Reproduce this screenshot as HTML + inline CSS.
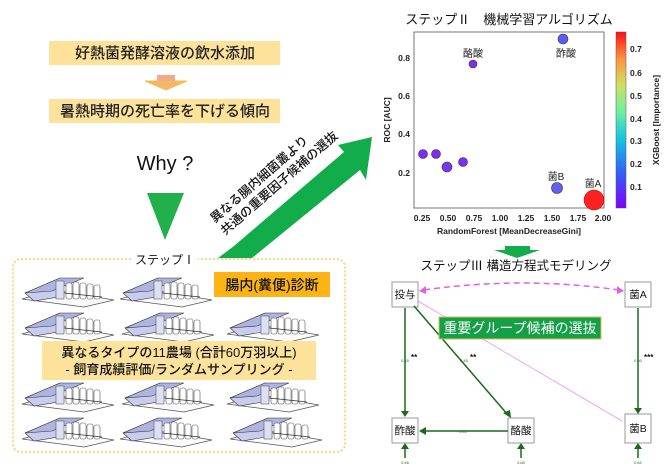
<!DOCTYPE html>
<html><head><meta charset="utf-8"><style>
body{margin:0;background:#fff;}
svg{display:block;font-family:"Liberation Sans","Noto Sans CJK JP",sans-serif;}
</style></head><body>
<svg width="670" height="470" viewBox="0 0 670 470" xmlns="http://www.w3.org/2000/svg">
<defs>
<g id="bld">
<polygon points="0,26 32,17 92,27 62,34" fill="#fafafa" stroke="#555" stroke-width="0.7"/>
<polygon points="3,20 38,5 42,23 12,28" fill="#c9ccef" stroke="#333" stroke-width="0.6"/>
<polygon points="3,20 38,5 62,5 30,18" fill="#aeb3e0" stroke="#333" stroke-width="0.6"/>
<rect x="34" y="8" width="8" height="18" fill="#dde0f5" stroke="#444" stroke-width="0.5"/>
<g fill="#fff" stroke="#555" stroke-width="0.6">
<rect x="44" y="10" width="6" height="16" rx="2"/><rect x="51" y="9" width="6" height="17" rx="2"/>
<rect x="58" y="10" width="6" height="16" rx="2"/><rect x="65" y="11" width="6" height="15" rx="2"/>
<rect x="72" y="12" width="6" height="14" rx="2"/></g>
<line x1="42" y1="20" x2="80" y2="24" stroke="#333" stroke-width="0.8"/>
</g>
<linearGradient id="cb" x1="0" y1="1" x2="0" y2="0">
<stop offset="0" stop-color="#7f00ff"/><stop offset="0.2" stop-color="#3060f8"/>
<stop offset="0.4" stop-color="#15c8e0"/><stop offset="0.55" stop-color="#70f0a0"/>
<stop offset="0.7" stop-color="#d0e060"/><stop offset="0.85" stop-color="#ff9040"/><stop offset="1" stop-color="#ff1010"/>
</linearGradient>
</defs>

<rect x="49" y="41" width="231" height="24" fill="#fde29c"/>
<text x="165" y="58" font-size="15" font-weight="500" text-anchor="middle" fill="#222">好熱菌発酵溶液の飲水添加</text>
<rect x="157" y="75" width="18" height="6" fill="#f2a88a"/>
<polygon points="145,81 187,81 166,90" fill="#f5b37a" stroke="#f3c030" stroke-width="1"/>
<rect x="49" y="99" width="231" height="24" fill="#fde29c"/>
<text x="165" y="116" font-size="15" font-weight="500" text-anchor="middle" fill="#222">暑熱時期の死亡率を下げる傾向</text>
<text x="165" y="170" font-size="20" text-anchor="middle" fill="#111">Why ?</text>
<polygon points="147,193 184,193 165,240" fill="#21b04b"/>

<polygon points="218,258 252,258 360,170 366,180 372,137 338,145 344,152 234,246" fill="#12ad4a"/>
<g transform="translate(224,234) rotate(-41)" font-size="12.5" font-weight="500" fill="#111">
<text x="0" y="-14">異なる腸内細菌叢より</text>
<text x="0" y="2">共通の重要因子候補の選抜</text>
</g>

<rect x="13" y="259" width="332" height="193" rx="8" fill="none" stroke="#f5c43a" stroke-width="1.3" stroke-dasharray="2,2"/>
<rect x="132" y="252" width="66" height="14" fill="#fff"/>
<text x="165" y="264" font-size="12" text-anchor="middle" fill="#111">ステップⅠ</text>
<use href="#bld" x="22" y="273"/><use href="#bld" x="120" y="273"/>
<use href="#bld" x="22" y="308"/><use href="#bld" x="122" y="308"/><use href="#bld" x="227" y="308"/>
<use href="#bld" x="22" y="378"/><use href="#bld" x="122" y="378"/><use href="#bld" x="227" y="378"/>
<use href="#bld" x="22" y="413"/><use href="#bld" x="120" y="413"/><use href="#bld" x="230" y="413"/>
<rect x="214" y="272" width="116" height="25" fill="#fcb414"/>
<text x="272" y="290" font-size="14" font-weight="500" text-anchor="middle" fill="#111">腸内(糞便)診断</text>
<rect x="42" y="341" width="274" height="39" fill="#fde29c"/>
<text x="179" y="357" font-size="13" font-weight="500" text-anchor="middle" fill="#111">異なるタイプの11農場 (合計60万羽以上)</text>
<text x="179" y="374" font-size="13" font-weight="500" text-anchor="middle" fill="#111">- 飼育成績評価/ランダムサンプリング -</text>

<text x="509" y="24" font-size="13" text-anchor="middle" fill="#111">ステップⅡ　機械学習アルゴリズム</text>
<rect x="414" y="32" width="190" height="176" fill="#fff" stroke="#555" stroke-width="0.8"/>
<g font-size="8.5" font-weight="bold" fill="#222">
<g text-anchor="middle">
<text x="422" y="221">0.25</text><text x="448" y="221">0.50</text><text x="474" y="221">0.75</text>
<text x="500" y="221">1.00</text><text x="526" y="221">1.25</text><text x="552" y="221">1.50</text>
<text x="578" y="221">1.75</text><text x="603" y="221">2.00</text></g>
<g text-anchor="end">
<text x="410" y="61">0.8</text><text x="410" y="99">0.6</text><text x="410" y="137">0.4</text><text x="410" y="176">0.2</text></g>
<text x="509" y="234" text-anchor="middle">RandomForest [MeanDecreaseGini]</text>
<text transform="translate(390,120) rotate(-90)" text-anchor="middle">ROC [AUC]</text>
</g>
<g stroke="#333" stroke-width="0.6">
<circle cx="423" cy="154" r="4.5" fill="#7d2cf0"/><circle cx="436" cy="154" r="4.5" fill="#7d2cf0"/>
<circle cx="447" cy="167" r="5" fill="#7a35f0"/><circle cx="463" cy="162" r="4.5" fill="#7d2cf0"/>
<circle cx="473" cy="64" r="4" fill="#7d2cf0"/><circle cx="563" cy="39" r="5" fill="#5c5cf4"/>
<circle cx="557" cy="188" r="5.5" fill="#6060f4"/>
</g>
<circle cx="594" cy="200" r="10" fill="#ff2020" stroke="#a00" stroke-width="0.5"/>
<g font-size="10" fill="#222" text-anchor="middle">
<text x="473" y="57">酪酸</text><text x="566" y="57">酢酸</text><text x="556" y="180">菌B</text><text x="593" y="187">菌A</text></g>
<rect x="616" y="32" width="10" height="176" fill="url(#cb)" stroke="#555" stroke-width="0.5"/>
<g font-size="8.5" font-weight="bold" fill="#222">
<text x="630" y="52">0.7</text><text x="630" y="76">0.6</text><text x="630" y="99">0.5</text>
<text x="630" y="122">0.4</text><text x="630" y="144">0.3</text><text x="630" y="167">0.2</text><text x="630" y="190">0.1</text>
<text transform="translate(659,120) rotate(-90)" text-anchor="middle">XGBoost [Importance]</text>
</g>

<polygon points="505,246 530,246 530,250 540,250 517,258 494,250 505,250" fill="#12ad4a"/>

<text x="516" y="270" font-size="12.5" text-anchor="middle" fill="#111">ステップⅢ 構造方程式モデリング</text>
<g fill="#fff" stroke="#999" stroke-width="1">
<rect x="392" y="282" width="26" height="25"/><rect x="625" y="282" width="26" height="25"/>
<rect x="392" y="418" width="26" height="25"/><rect x="508" y="418" width="26" height="25"/><rect x="625" y="414" width="26" height="29"/>
</g>
<g font-size="10.5" fill="#111" text-anchor="middle">
<text x="405" y="298">投与</text><text x="638" y="298">菌A</text>
<text x="405" y="434">酢酸</text><text x="521" y="434">酪酸</text><text x="638" y="432">菌B</text></g>
<path d="M424,290 Q522,276 619,290" fill="none" stroke="#e060e0" stroke-width="1.5" stroke-dasharray="6,4"/>
<polygon points="419,291 426,286 426,294" fill="#e060e0"/><polygon points="624,291 617,286 617,294" fill="#e060e0"/>
<line x1="418" y1="301" x2="622" y2="421" stroke="#f08ef0" stroke-width="0.8"/>
<g stroke="#1a6a1a" stroke-width="1.5">
<line x1="405" y1="308" x2="405" y2="413"/><line x1="414" y1="306" x2="508" y2="415"/>
<line x1="638" y1="308" x2="638" y2="410"/><line x1="508" y1="431" x2="424" y2="431"/>
<line x1="405" y1="458" x2="405" y2="448"/><line x1="521" y1="458" x2="521" y2="448"/><line x1="638" y1="458" x2="638" y2="448"/>
</g>
<g fill="#1a6a1a">
<polygon points="401,411 409,411 405,417"/><polygon points="503,413 510,410 511,418"/>
<polygon points="634,408 642,408 638,414"/><polygon points="426,427 426,435 419,431"/>
<polygon points="401,449 409,449 405,443"/><polygon points="517,449 525,449 521,443"/><polygon points="634,449 642,449 638,443"/>
</g>
<g font-size="4" fill="#1a6a1a" text-anchor="middle">
<text x="405" y="362">0.45</text><text x="464" y="362">0.45</text><text x="638" y="362">0.50</text><text x="463" y="433">0.41</text>
<text x="405" y="464">0.46</text><text x="521" y="464">0.80</text><text x="638" y="464">0.62</text></g>
<g font-size="8" font-weight="bold" fill="#111"><text x="411" y="360">**</text><text x="470" y="360">**</text><text x="644" y="360">***</text></g>
<rect x="439" y="317" width="162" height="22" fill="#14a047" stroke="#d8c050" stroke-width="1"/>
<text x="520" y="333" font-size="14" text-anchor="middle" fill="#fff">重要グループ候補の選抜</text>
</svg>
</body></html>
